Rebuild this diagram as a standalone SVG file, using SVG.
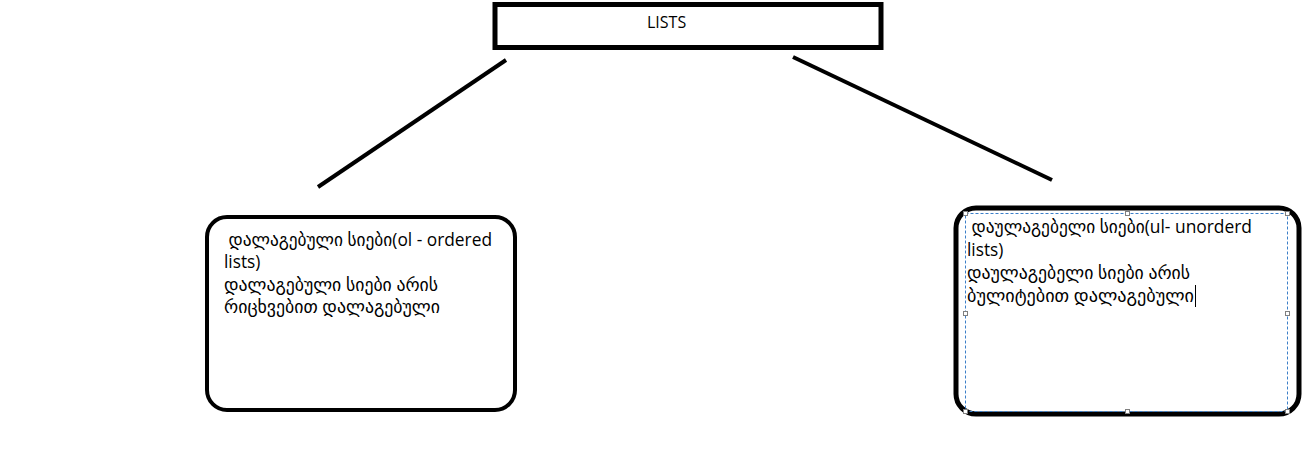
<svg xmlns="http://www.w3.org/2000/svg" width="1315" height="450" viewBox="0 0 1315 450">
<style>
.t{font-family:"Open Sans","DejaVu Sans",sans-serif;font-size:17.3px;fill:#000}
.box{fill:#fff;stroke:#000}
.conn{stroke:#000;stroke-width:4;fill:none;stroke-linecap:butt}
.h{fill:#fff;stroke:#808080;stroke-width:1}
</style>
<rect width="1315" height="450" fill="#fff"/>
<g id="connectors">
<line class="conn" x1="506" y1="60" x2="318" y2="187"/>
<line class="conn" x1="793" y1="57" x2="1052" y2="180"/>
</g>
<g id="lists">
<rect class="box" x="495" y="4.5" width="386" height="43" stroke-width="5"/>
<text class="t" x="647" y="28" style="font-size:16px">LISTS</text>
</g>
<g id="ordered">
<rect class="box" x="207" y="217" width="308" height="193" rx="20" stroke-width="4"/>
<text class="t" xml:space="preserve"><tspan x="224" y="246" textLength="268" lengthAdjust="spacingAndGlyphs"> დალაგებული სიები(ol - ordered</tspan><tspan x="224" y="268">lists)</tspan><tspan x="224" y="291" textLength="214" lengthAdjust="spacingAndGlyphs">დალაგებული სიები არის</tspan><tspan x="224" y="313" textLength="216" lengthAdjust="spacingAndGlyphs">რიცხვებით დალაგებული</tspan></text>
</g>
<g id="unordered">
<rect class="box" x="956" y="208" width="343" height="206" rx="20" stroke-width="5"/>
<rect x="965.5" y="213.5" width="322" height="198" fill="none" stroke="#3c7fc8" stroke-width="1" stroke-dasharray="3,2"/>
<rect class="h" x="963.5" y="211.5" width="4" height="4"/>
<rect class="h" x="1125.5" y="211.5" width="4" height="4"/>
<rect class="h" x="1285.5" y="211.5" width="4" height="4"/>
<rect class="h" x="963.5" y="311.5" width="4" height="4"/>
<rect class="h" x="1285.5" y="311.5" width="4" height="4"/>
<rect class="h" x="963.5" y="409.5" width="4" height="4"/>
<rect class="h" x="1125.5" y="409.5" width="4" height="4"/>
<rect class="h" x="1285.5" y="409.5" width="4" height="4"/>
<text class="t" xml:space="preserve"><tspan x="967" y="233" textLength="285" lengthAdjust="spacingAndGlyphs"> დაულაგებელი სიები(ul- unorderd</tspan><tspan x="967" y="256">lists)</tspan><tspan x="967" y="279" textLength="223" lengthAdjust="spacingAndGlyphs">დაულაგებელი სიები არის</tspan><tspan x="967" y="302" textLength="227" lengthAdjust="spacingAndGlyphs">ბულიტებით დალაგებული</tspan></text>
<line x1="1195.5" y1="285" x2="1195.5" y2="307" stroke="#000" stroke-width="1"/>
</g>
</svg>
